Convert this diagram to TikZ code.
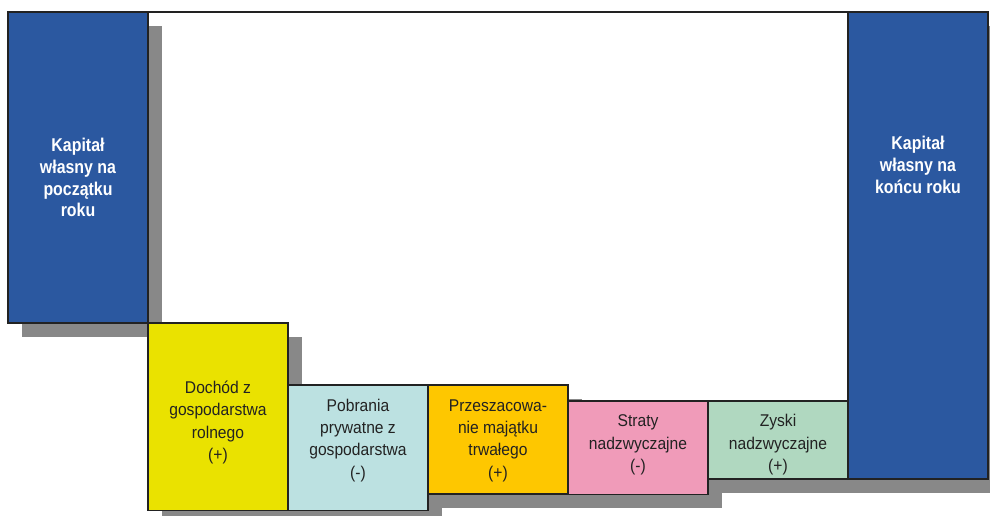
\documentclass[tikz,border=0pt]{standalone}
\usepackage{fontspec}
\newfontfamily\boxfont{Liberation Sans}[FakeStretch=0.92]
\newfontfamily\capfont{Liberation Sans}[FakeStretch=0.86]
\usetikzlibrary{calc,backgrounds}

\definecolor{capblue}{RGB}{43,88,160}
\definecolor{incyellow}{RGB}{234,226,0}
\definecolor{drawblue}{RGB}{188,225,225}
\definecolor{revorange}{RGB}{254,199,0}
\definecolor{losspink}{RGB}{240,155,185}
\definecolor{gaingreen}{RGB}{176,216,192}
\definecolor{shadowgray}{RGB}{136,136,136}
\definecolor{edgedark}{RGB}{34,34,34}

\tikzset{
  panel/.style={draw=edgedark, line width=1.3pt, inner sep=0pt, outer sep=0pt,
    anchor=north west, minimum width=140pt},
  caplabel/.style={anchor=base, align=center, inner sep=0pt, text=white,
    font=\capfont\bfseries\fontsize{18.5}{21.7}\selectfont},
  itemlabel/.style={anchor=base, align=center, inner sep=0pt, text=edgedark,
    font=\boxfont\fontsize{17}{22.3}\selectfont},
  topedge/.style={draw=edgedark, line width=1.3pt},
  boxshadow/.style={fill=shadowgray}
}

\begin{document}
\begin{tikzpicture}[x=1pt, y=-1pt]
\useasboundingbox (0,0) rectangle (990,515);

% equity columns and the change items
\begin{scope}[every node/.append style={panel}]
  \path
    node[minimum height=311pt, fill=capblue]     (kpoc) at (8,12)    {}
    node[minimum height=467pt, fill=capblue]     (kkon) at (848,12)  {}
    node[minimum height=187.5pt, fill=incyellow] (doch) at (148,323) {}
    node[minimum height=125.5pt, fill=drawblue]  (pobr) at (288,385) {}
    node[minimum height=109pt, fill=revorange]   (prze) at (428,385) {}
    node[minimum height=93.5pt, fill=losspink]   (stra) at (568,401) {}
    node[minimum height=78pt, fill=gaingreen]    (zysk) at (708,401) {};
\end{scope}

% drop shadows behind every box
\begin{scope}[on background layer]
  \foreach \n in {kpoc,kkon,doch,pobr,prze,stra,zysk}{
    \fill[boxshadow] ($(\n.north west)+(14,13.5)$) rectangle ($(\n.south east)+(14,13.5)$);
  }
\end{scope}

% upper edge joining the two equity columns
\draw[topedge] (kpoc.north east) -- (kkon.north west);

% labels (placed by the baseline of their last line)
\node[caplabel] (tkpoc) at (78,216.7)  {Kapitał\\własny na\\początku\\roku};
\node[caplabel] (tkkon) at (918,193)   {Kapitał\\własny na\\końcu roku};
\node[itemlabel] (tdoch) at (218,460.5) {Dochód z\\gospodarstwa\\rolnego\\(+)};
\node[itemlabel] (tpobr) at (358,478)   {Pobrania\\prywatne z\\gospodarstwa\\(-)};
\node[itemlabel] (tprze) at (498,478)   {Przeszacowa-\\nie majątku\\trwałego\\(+)};
\node[itemlabel] (tstra) at (638,471.5) {Straty\\nadzwyczajne\\(-)};
\node[itemlabel] (tzysk) at (778,471.5) {Zyski\\nadzwyczajne\\(+)};
\end{tikzpicture}
\end{document}
